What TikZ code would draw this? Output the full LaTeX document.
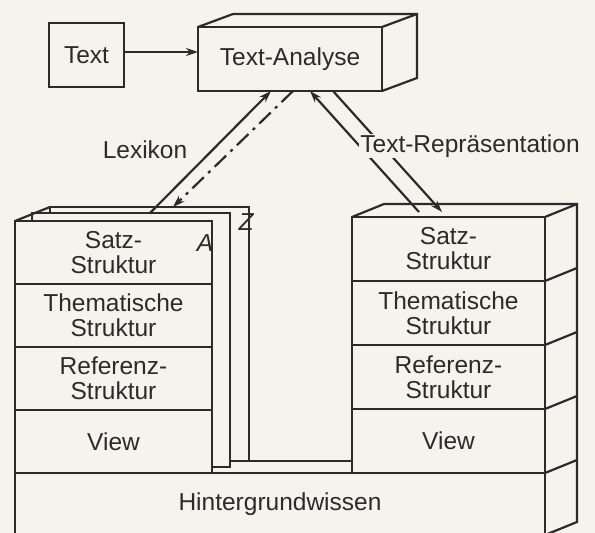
\documentclass[tikz,border=0pt]{standalone}
\usepackage{fontspec}
\setmainfont{Liberation Sans}
\usepackage{tikz}
\usetikzlibrary{positioning,arrows.meta,calc}
\definecolor{paper}{HTML}{F5F3EC}
\definecolor{ink}{HTML}{2B2B2B}
\newcommand{\diafont}{\fontsize{24.5}{25}\selectfont}
\tikzset{
    box/.style={rectangle, draw=ink, line width=2.2pt, fill=paper, align=center, font=\diafont, text=ink, inner sep=0pt, outer sep=0pt},
    layer/.style={box, minimum height=64pt},
    sheet/.style={rectangle, draw=ink, line width=2.2pt, fill=paper, outer sep=0pt},
    face/.style={draw=ink, line width=2.2pt},
    arrow/.style={-{Stealth[length=12pt,width=8pt]}, line width=2.2pt, color=ink},
    lbl/.style={font=\diafont, text=ink}
}
\begin{document}
\begin{tikzpicture}[x=1pt, y=-1pt]

\fill[paper] (0,0) rectangle (595,533);
\useasboundingbox (0,0) rectangle (595,533);
\clip (0,0) rectangle (595,533);

\node[box, minimum width=75pt, minimum height=64pt] (text) at (86.5,55) {Text};
\node[box, minimum width=184pt, minimum height=64pt] (ana) at (290,59) {Text-Analyse};
\draw[face] (ana.north west) -- ++(35,-13) -| ($(ana.south east)+(35,-13)$) -- (ana.south east);
\draw[face] (ana.north east) -- ++(35,-13);

% sheets behind the left stack
\node[sheet, minimum width=199pt, minimum height=254pt] (sheetz) at (149.5,334) {};
\node[sheet, minimum width=198pt, minimum height=254pt] (sheeta) at (131,340) {};

\node[layer, minimum width=197pt, minimum height=63pt] (ls1) at (113.5,252.5) {Satz-\\Struktur};
\node[layer, minimum width=197pt, minimum height=63pt, below=0pt of ls1] (ls2) {Thematische\\Struktur};
\node[layer, minimum width=197pt, minimum height=63pt, below=0pt of ls2] (ls3) {Referenz-\\Struktur};
\node[layer, minimum width=197pt, minimum height=63pt, below=0pt of ls3] (ls4) {View};
\draw[face] (ls1.north west) -- (sheetz.north west);

\node[layer, minimum width=193pt] (rs1) at (448.5,249) {Satz-\\Struktur};
\node[layer, minimum width=193pt, below=0pt of rs1] (rs2) {Thematische\\Struktur};
\node[layer, minimum width=193pt, below=0pt of rs2] (rs3) {Referenz-\\Struktur};
\node[layer, minimum width=193pt, below=0pt of rs3] (rs4) {View};

\draw[face] (sheetz.south east) -- (sheetz.south east -| rs4.west);

\node[box, minimum width=530pt, minimum height=62pt, anchor=north west] (hw) at (ls4.south west) {Hintergrundwissen};

% side faces of the right stack
\draw[face] (rs1.north west) -- ++(32,-13) -| ($(hw.south east)+(32,-13)$) -- (hw.south east);
\foreach \c in {rs1.north east, rs1.south east, rs2.south east, rs3.south east, rs4.south east}
    \draw[face] (\c) -- ++(32,-13);

\node[lbl, font=\diafont\itshape] (a) at (205,243) {A};
\node[lbl, font=\diafont\itshape] (z) at (246,222) {Z};

\draw[arrow] ([yshift=3pt]text.east) -- ([yshift=3pt]text.east -| ana.west);
\draw[arrow] ([xshift=19pt]sheeta.north) -- ([xshift=-19pt]ana.south);
\draw[arrow, dash pattern=on 16pt off 6pt on 3pt off 6pt] ([xshift=3pt]ana.south) -- ([xshift=23.5pt]sheetz.north);
\draw[arrow] ([xshift=-29.5pt,yshift=5pt]rs1.north) -- ([xshift=20pt]ana.south);
\draw[arrow] ([xshift=43pt]ana.south) -- ([xshift=-6.5pt,yshift=5pt]rs1.north);

\node[lbl] (lex) at (145,150) {Lexikon};
\node[lbl, fill=paper, inner sep=1pt] (rep) at (470,146) {Text-Repräsentation};

\end{tikzpicture}
\end{document}
